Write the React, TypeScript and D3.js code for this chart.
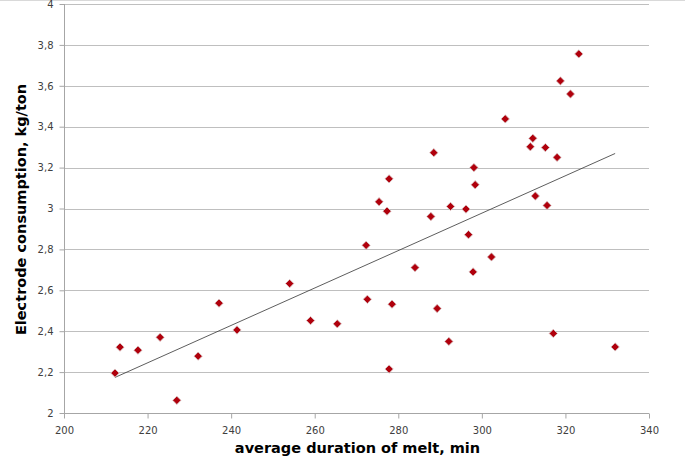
import { useEffect, useRef } from "react";
import * as d3 from "d3";

// average duration of melt, min
const meltMinutes = [
  212.2, 213.4, 217.7, 223.0, 227.0, 232.1, 237.1, 241.4, 254.0, 259.0, 265.4,
  272.3, 272.6, 275.4, 277.3, 277.8, 277.8, 278.5, 284.0, 287.8, 288.5, 289.3,
  292.5, 292.1, 296.2, 296.8, 297.9, 298.1, 298.4, 302.3, 305.6, 311.6, 312.2,
  312.8, 315.2, 315.6, 318.0, 318.8, 321.2, 323.2, 317.1, 331.9,
];
// electrode consumption, kg/ton
const consumption = [
  2.195, 2.322, 2.307, 2.37, 2.062, 2.278, 2.537, 2.406, 2.633, 2.452, 2.436,
  2.82, 2.556, 3.033, 2.987, 3.145, 2.215, 2.532, 2.711, 2.961, 3.273, 2.511,
  3.01, 2.35, 2.997, 2.872, 2.69, 3.2, 3.116, 2.763, 3.438, 3.302, 3.343, 3.061,
  3.298, 3.015, 3.25, 3.624, 3.56, 3.756, 2.389, 2.323,
];
const xTicks = [200, 220, 240, 260, 280, 300, 320, 340];
const yTicks = [2, 2.2, 2.4, 2.6, 2.8, 3, 3.2, 3.4, 3.6, 3.8, 4];

const W = 685,
  H = 465;
const margin = { top: 4, right: 36, bottom: 52, left: 64 };

export default function App() {
  const ref = useRef<SVGSVGElement>(null);

  useEffect(() => {
    const svg = d3.select(ref.current);
    svg.selectAll("*").remove();

    const x = d3
      .scaleLinear()
      .domain([200, 340])
      .range([margin.left, W - margin.right]);
    const y = d3
      .scaleLinear()
      .domain([2, 4])
      .range([H - margin.bottom, margin.top]);

    const fmt = (d: number) =>
      Number.isInteger(d) ? String(d) : d.toFixed(1).replace(".", ",");

    // outer frame top edge
    svg
      .append("line")
      .attr("x1", 0)
      .attr("x2", W)
      .attr("y1", 0.5)
      .attr("y2", 0.5)
      .attr("stroke", "#d9d9d9");

    // horizontal grid
    svg
      .append("g")
      .selectAll("line")
      .data(yTicks.slice(1))
      .enter()
      .append("line")
      .attr("x1", margin.left)
      .attr("x2", W - margin.right)
      .attr("y1", (d) => Math.round(y(d)) + 0.5)
      .attr("y2", (d) => Math.round(y(d)) + 0.5)
      .attr("stroke", "#bfbfbf");

    const font = "Verdana, 'DejaVu Sans', sans-serif";

    // y axis
    const yAxis = svg
      .append("g")
      .attr("transform", `translate(${margin.left + 0.5},0)`)
      .call(
        d3
          .axisLeft(y)
          .tickValues(yTicks)
          .tickFormat((d) => fmt(+d))
          .tickSize(5)
          .tickPadding(6)
      );
    yAxis.select(".domain").attr("stroke", "#a6a6a6").attr("d", `M0,${y(4)}V${y(2)}`);
    yAxis.selectAll(".tick line").attr("stroke", "#a6a6a6");
    yAxis
      .selectAll("text")
      .attr("fill", "#404040")
      .style("font-family", font)
      .style("font-size", "10px");

    // x axis
    const xAxis = svg
      .append("g")
      .attr("transform", `translate(0,${Math.round(y(2)) + 0.5})`)
      .call(
        d3
          .axisBottom(x)
          .tickValues(xTicks)
          .tickFormat((d) => String(d))
          .tickSize(5)
          .tickPadding(8)
      );
    xAxis.select(".domain").attr("stroke", "#a6a6a6").attr("d", `M${x(200)},0H${x(340)}`);
    xAxis.selectAll(".tick line").attr("stroke", "#a6a6a6");
    xAxis
      .selectAll("text")
      .attr("fill", "#404040")
      .style("font-family", font)
      .style("font-size", "10px");

    // linear trend line (least squares)
    const mx = d3.mean(meltMinutes) as number;
    const my = d3.mean(consumption) as number;
    let sxy = 0,
      sxx = 0;
    meltMinutes.forEach((v, i) => {
      sxy += (v - mx) * (consumption[i] - my);
      sxx += (v - mx) * (v - mx);
    });
    const slope = sxy / sxx;
    const icpt = my - slope * mx;
    const [x0, x1] = d3.extent(meltMinutes) as [number, number];
    svg
      .append("line")
      .attr("x1", x(x0))
      .attr("y1", y(icpt + slope * x0))
      .attr("x2", x(x1))
      .attr("y2", y(icpt + slope * x1))
      .attr("stroke", "#333")
      .attr("stroke-width", 0.8);

    // markers
    const diamond = d3.symbol().type(d3.symbolDiamond2).size(44);
    svg
      .append("g")
      .selectAll("path")
      .data(meltMinutes.map((v, i) => [v, consumption[i]]))
      .enter()
      .append("path")
      .attr("d", diamond)
      .attr("transform", (d) => `translate(${x(d[0])},${y(d[1])})`)
      .attr("fill", "#b0000c")
      .attr("stroke", "#d8c8c8")
      .attr("stroke-width", 0.8);

    // axis titles
    svg
      .append("text")
      .attr("x", (x(200) + x(340)) / 2 + 1)
      .attr("y", 453)
      .attr("text-anchor", "middle")
      .style("font-family", font)
      .style("font-weight", "bold")
      .style("font-size", "14.5px")
      .text("average duration of melt, min");

    svg
      .append("text")
      .attr("transform", `translate(26,${(y(2) + y(4)) / 2 + 1}) rotate(-90)`)
      .attr("text-anchor", "middle")
      .style("font-family", font)
      .style("font-weight", "bold")
      .style("font-size", "14.5px")
      .text("Electrode consumption, kg/ton");
  }, []);

  return (
    <svg
      ref={ref}
      width={W}
      height={H}
      style={{ position: "absolute", left: 0, top: 0, background: "#fff" }}
    />
  );
}
